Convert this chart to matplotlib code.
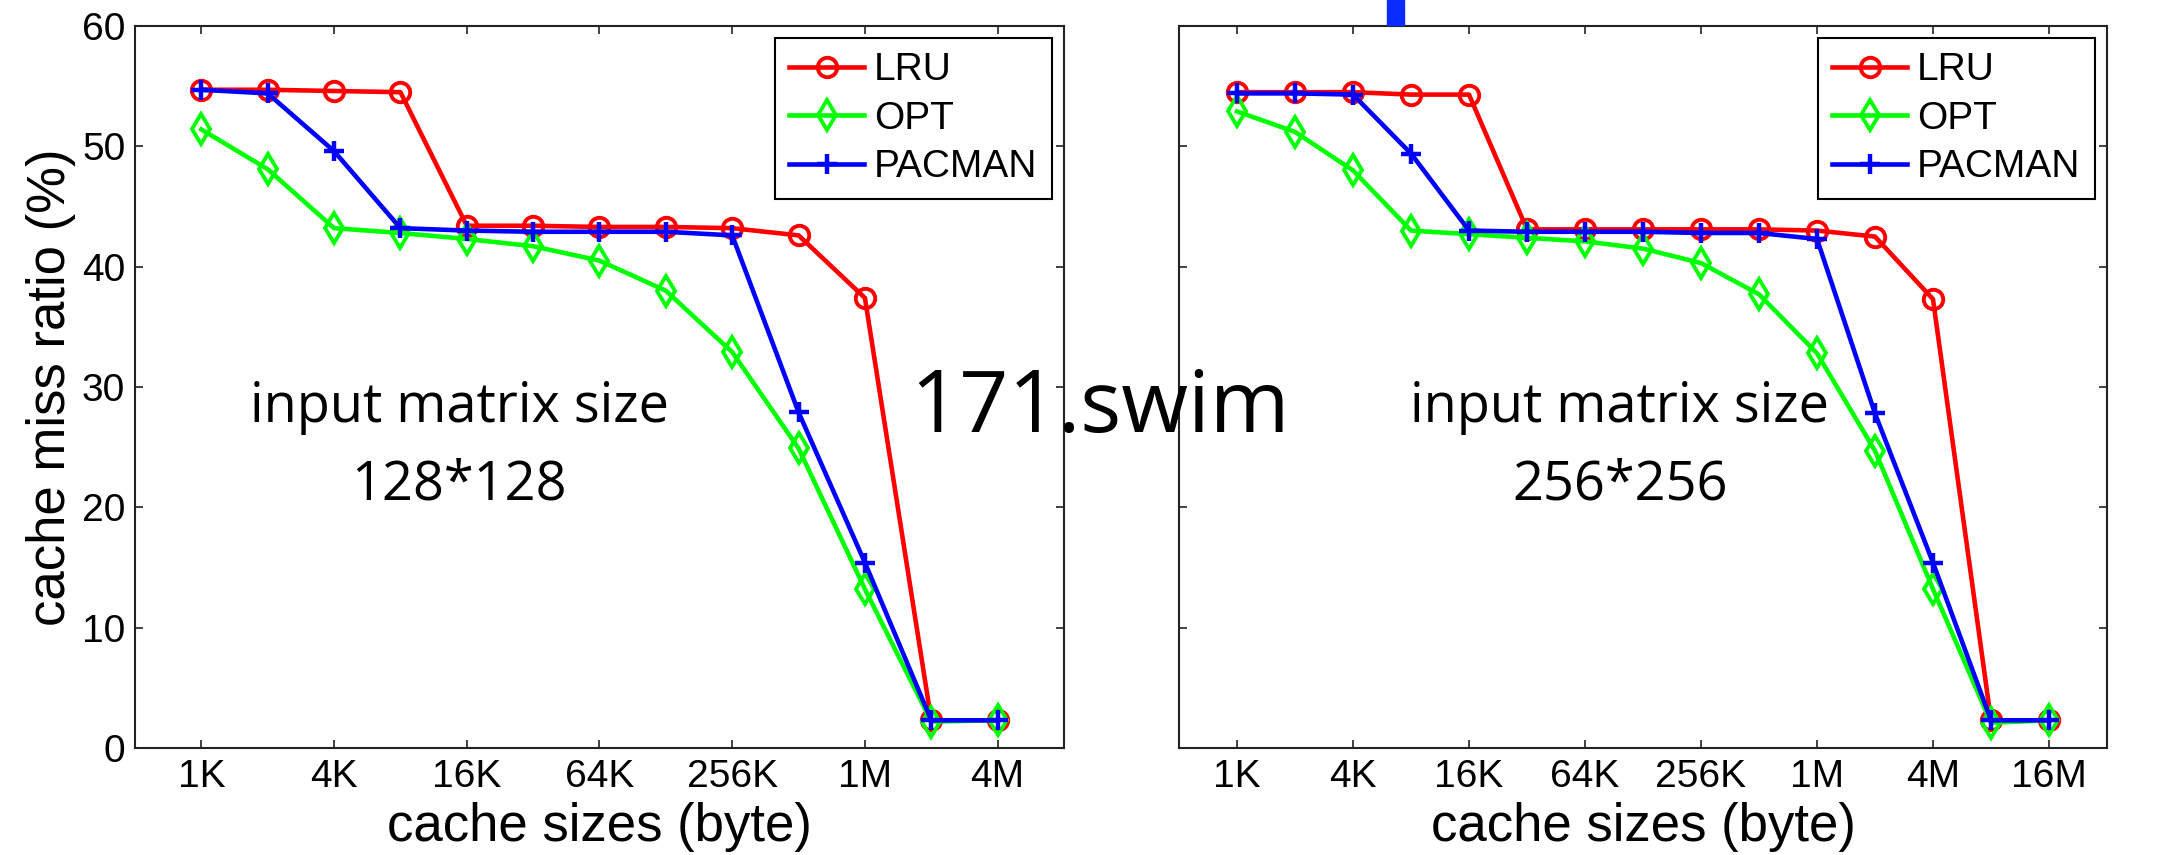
import matplotlib
matplotlib.use("Agg")
import matplotlib.pyplot as plt
from matplotlib.patches import Rectangle

# cache sizes (bytes)
sizes_128 = [2 ** k for k in range(10, 23)]   # 1K .. 4M
sizes_256 = [2 ** k for k in range(10, 25)]   # 1K .. 16M

# miss ratios (%), input matrix 128*128
lru_128 = [54.7, 54.7, 54.6, 54.5, 43.4, 43.4, 43.3, 43.3, 43.2, 42.6, 37.4, 2.3, 2.3]
opt_128 = [51.4, 48.1, 43.2, 42.8, 42.3, 41.7, 40.5, 38.0, 32.9, 24.9, 13.2, 2.2, 2.3]
pac_128 = [54.7, 54.4, 49.6, 43.2, 43.0, 42.9, 42.9, 42.9, 42.6, 27.9, 15.4, 2.3, 2.3]

# miss ratios (%), input matrix 256*256
lru_256 = [54.5, 54.5, 54.5, 54.3, 54.3, 43.1, 43.1, 43.1, 43.1, 43.1, 43.0, 42.5, 37.3, 2.3, 2.3]
opt_256 = [52.9, 51.2, 48.0, 43.0, 42.7, 42.4, 42.1, 41.5, 40.3, 37.7, 32.8, 24.7, 13.2, 2.1, 2.3]
pac_256 = [54.4, 54.4, 54.3, 49.4, 43.0, 42.9, 42.9, 42.9, 42.8, 42.8, 42.3, 27.8, 15.4, 2.3, 2.3]

ticks_128 = [2 ** k for k in range(10, 23, 2)]
ticklabels_128 = ['1K', '4K', '16K', '64K', '256K', '1M', '4M']
ticks_256 = [2 ** k for k in range(10, 25, 2)]
ticklabels_256 = ['1K', '4K', '16K', '64K', '256K', '1M', '4M', '16M']

W, H = 2162, 855
fig = plt.figure(figsize=(W / 100, H / 100), dpi=100)
plt.rcParams['font.family'] = 'Liberation Sans'


def panel(rect, sizes, lru, opt, pac, ticks, labels, note, note_x, show_y):
    ax = fig.add_axes(rect)
    ax.plot(sizes, lru, color='#ff0000', lw=3.3, marker='o', ms=14, mfc='none',
            mew=2.8, label='LRU')
    ax.plot(sizes, opt, color='#00ff00', lw=3.3, marker='d', ms=15, mfc='none',
            mew=2.8, label='OPT')
    ax.plot(sizes, pac, color='#0000ff', lw=3.3, marker='+', ms=14,
            mew=3.2, label='PACMAN')
    ax.set_xscale('log', base=2)
    ax.set_xlim(sizes[0] / 2, sizes[-1] * 2)
    ax.set_ylim(0, 60)
    ax.set_xticks(ticks)
    ax.set_xticklabels(labels)
    ax.minorticks_off()
    ax.set_yticks(range(0, 61, 10))
    ax.tick_params(direction='in', top=True, right=True, length=6, width=1.2,
                   labelsize=28, colors='#222222', labelcolor='black')
    ax.tick_params(axis='x', pad=8)
    ax.tick_params(axis='y', pad=7)
    if not show_y:
        ax.set_yticklabels([])
    else:
        ax.set_ylabel('cache miss ratio (%)', fontsize=38, labelpad=4)
    ax.set_xlabel('cache sizes (byte)', fontsize=38, labelpad=5)
    for s in ax.spines.values():
        s.set_linewidth(1.5)
        s.set_color('#222222')
    leg = ax.legend(loc='upper right', fontsize=28, fancybox=False,
                    framealpha=1, edgecolor='black', handlelength=1.93,
                    handletextpad=0.26, borderpad=0.36, labelspacing=0.32,
                    borderaxespad=0.32)
    leg.get_frame().set_linewidth(1.5)
    line1, line2 = note.split('\n')
    ax.text(note_x, 0.4515, line1, transform=ax.transAxes, ha='center',
            va='baseline', fontsize=39, family='Open Sans')
    ax.text(note_x, 0.3435, line2, transform=ax.transAxes, ha='center',
            va='baseline', fontsize=39, family='Open Sans')
    return ax


panel([135 / W, (H - 748) / H, (1064 - 135) / W, (748 - 26) / H],
      sizes_128, lru_128, opt_128, pac_128, ticks_128, ticklabels_128,
      'input matrix size\n128*128', 0.349, True)
panel([1179 / W, (H - 748) / H, (2107 - 1179) / W, (748 - 26) / H],
      sizes_256, lru_256, opt_256, pac_256, ticks_256, ticklabels_256,
      'input matrix size\n256*256', 0.475, False)

fig.text(1100 / W, 1 - 432 / H, '171.swim', ha='center', va='baseline',
         fontsize=62, family='Open Sans')

# stray blue mark above the right panel
fig.patches.append(Rectangle((1387 / W, 1 - 25 / H), 17 / W, 25 / H,
                             transform=fig.transFigure, color='#0a2cff',
                             zorder=5))

fig.savefig('out.png', dpi=100)
